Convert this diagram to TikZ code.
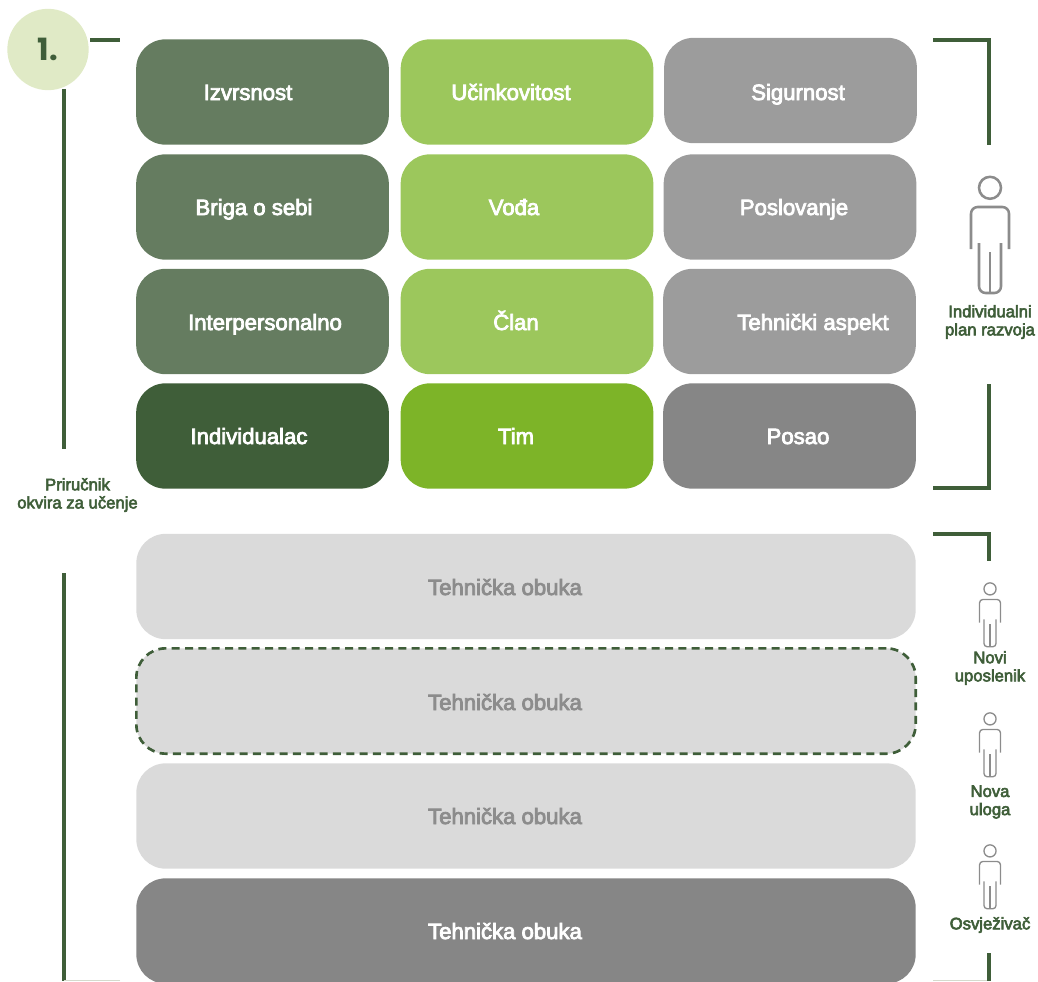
\documentclass[tikz,border=0pt]{standalone}
\usepackage{fontspec}
\setmainfont{Liberation Sans}
\newfontfamily\cellfont[FakeBold=3.5]{Liberation Sans}
\newfontfamily\numfont{Poppins Bold}
\usetikzlibrary{positioning}

\definecolor{darkgreen}{HTML}{3F5E39}
\definecolor{midgreen}{HTML}{657C60}
\definecolor{limegreen}{HTML}{7DB428}
\definecolor{softgreen}{HTML}{9CC75C}
\definecolor{palegreen}{HTML}{E0EAC6}
\definecolor{edgegreen}{HTML}{D5DACD}
\definecolor{darkgrey}{HTML}{868686}
\definecolor{midgrey}{HTML}{9C9C9C}
\definecolor{palegrey}{HTML}{DADADA}
\definecolor{labelgrey}{HTML}{8C8C8C}

\tikzset{
    box/.style={rectangle, rounded corners=22pt, minimum width=189.5pt, minimum height=79pt, inner sep=0pt},
    widebox/.style={box, minimum width=584.5pt},
    cell/.style={font=\cellfont\fontsize{16.6}{18}\selectfont, text=white, inner sep=0pt, anchor=base},
    sidelabel/.style={font=\cellfont\fontsize{12.5}{13.6}\selectfont, text=darkgreen, align=center, inner sep=0pt},
    bracket/.style={draw=darkgreen, line width=2.3pt},
    bottomedge/.style={draw=edgegreen, line width=0.8pt},
    pics/person/.style 2 args={code={
        \draw[line width=#1, draw=labelgrey] (0,-0.2) circle (11);
        \draw[line width=#1, draw=labelgrey, rounded corners=#2] (-19,61) -- (-19,19) -- (19,19) -- (19,61);
        \draw[line width=#1, draw=labelgrey, rounded corners=#2] (-11,55) -- (-11,105) -- (11,105) -- (11,55);
        \draw[line width=#1, draw=labelgrey] (0,64) -- (0,105);
    }}
}

\begin{document}
\begin{tikzpicture}[x=0.75pt,y=-0.75pt]
    \useasboundingbox (0,0) rectangle (1038,981);

    % competency grid
    \node[box, fill=midgreen]  (izvrsnost)  at (262.5,92) {};
    \node[box, fill=softgreen] (ucinkovit)  at (527,92)   {};
    \node[box, fill=midgrey]   (sigurnost)  at (790.5,90.5) {};
    \node[box, fill=midgreen]  (briga)      at (262.5,207) {};
    \node[box, fill=softgreen] (voda)       at (527,207)  {};
    \node[box, fill=midgrey]   (poslovanje) at (790,207)  {};
    \node[box, fill=midgreen]  (interp)     at (262.5,321.5) {};
    \node[box, fill=softgreen] (clan)       at (527,321.5) {};
    \node[box, fill=midgrey]   (tehnicki)   at (789.5,321.5) {};
    \node[box, fill=darkgreen] (individ)    at (262.5,436) {};
    \node[box, fill=limegreen] (tim)        at (527,436)  {};
    \node[box, fill=darkgrey]  (posao)      at (789.5,436) {};

    \node[cell] at (248,100)  {Izvrsnost};
    \node[cell] at (511,100)  {Učinkovitost};
    \node[cell] at (798,100)  {Sigurnost};
    \node[cell] at (254,215) {Briga o sebi};
    \node[cell] at (514,215) {Vođa};
    \node[cell] at (794,215) {Poslovanje};
    \node[cell] at (265,330) {Interpersonalno};
    \node[cell] at (516,330) {Član};
    \node[cell] at (813,330) {Tehnički aspekt};
    \node[cell] at (249,444) {Individualac};
    \node[cell] at (516,444) {Tim};
    \node[cell] at (798,444) {Posao};

    % training rows
    \node[widebox, fill=palegrey] (obuka1) at (526,586.5) {};
    \node[widebox, fill=palegrey, draw=darkgreen, line width=2pt, dash pattern=on 6pt off 4pt] (obuka2) at (526,701) {};
    \node[widebox, fill=palegrey] (obuka3) at (526,816) {};
    \node[widebox, fill=darkgrey] (obuka4) at (526,931) {};

    \node[cell, text=labelgrey] at (505,595) {Tehnička obuka};
    \node[cell, text=labelgrey] at (505,710) {Tehnička obuka};
    \node[cell, text=labelgrey] at (505,824) {Tehnička obuka};
    \node[cell]                 at (505,939) {Tehnička obuka};

    % left side
    \node[circle, fill=palegreen, minimum size=61pt, inner sep=0pt, font=\numfont\fontsize{23}{25}\selectfont, text=darkgreen] (num) at (48,49.5) {1.};
    \node[sidelabel] (prirucnik) at (77.5,495) {Priručnik\\okvira za učenje};

    \coordinate (lefttop) at (64,89);
    \coordinate (leftmid) at (64,449);
    \coordinate (leftlow) at (64,573);
    \coordinate (leftcorner) at (64,981);
    \coordinate (leftend) at (120,980.5);

    \draw[bracket] (90,40) -- (120,40);
    \draw[bracket] (lefttop) -- (leftmid);
    \draw[bracket] (leftlow) -- (leftcorner);
    \draw[bottomedge] (leftend) -- (leftend -| leftcorner);

    % right side
    \coordinate (rightcorner) at (989,981);
    \coordinate (rightend) at (933,980.5);

    \draw[bracket] (933,40) -| (989,145);
    \draw[bracket] (989,384) |- (933,488);
    \draw[bracket] (933,534) -| (989,561);
    \draw[bottomedge] (rightend) -- (rightend -| rightcorner);
    \draw[bracket] (989,953) -- (rightcorner);

    \pic at (990,188) {person={1.9pt}{5pt}};
    \pic[scale=0.55] at (990,589) {person={1pt}{2.5pt}};
    \pic[scale=0.55] at (990,719) {person={1pt}{2.5pt}};
    \pic[scale=0.55] at (990,851) {person={1pt}{2.5pt}};

    \node[sidelabel] (plan)  at (990,322) {Individualni\\plan razvoja};
    \node[sidelabel] (novi)  at (990,668) {Novi\\uposlenik};
    \node[sidelabel] (nova)  at (990,802) {Nova\\uloga};
    \node[sidelabel] (osvj)  at (990,925) {Osvježivač};
\end{tikzpicture}
\end{document}
